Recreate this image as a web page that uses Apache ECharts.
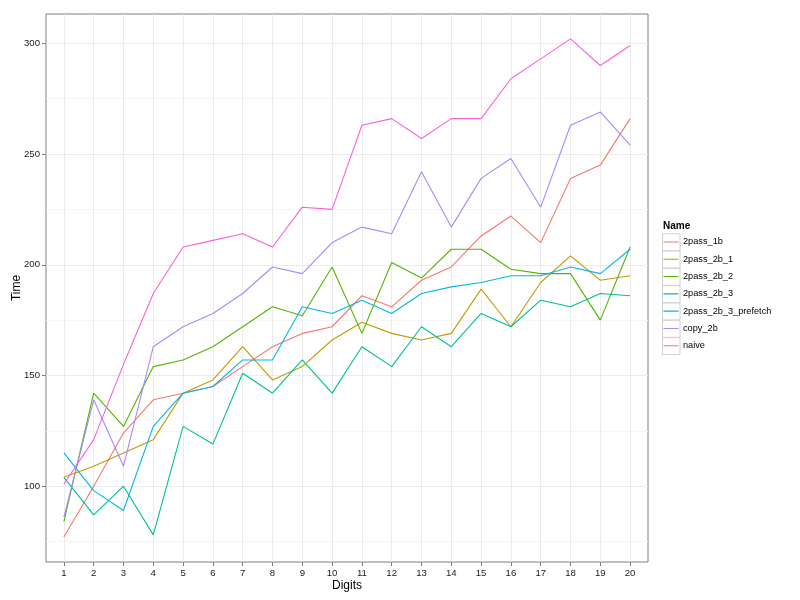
<!DOCTYPE html>
<html>
<head>
<meta charset="utf-8">
<script src="https://cdn.jsdelivr.net/npm/echarts@6/dist/echarts.min.js"></script>
<style>html,body{margin:0;padding:0;background:#fff}#c{width:800px;height:600px}</style>
</head>
<body>
<div id="c"></div>
<script>
var digits = [1,2,3,4,5,6,7,8,9,10,11,12,13,14,15,16,17,18,19,20];
var yTicks = [100,150,200,250,300];
var yMinor = [75,125,175,225,275];
var seriesNames = ['2pass_1b','2pass_2b_1','2pass_2b_2','2pass_2b_3','2pass_2b_3_prefetch','copy_2b','naive'];
var pass1b        = [77,100,124,139,142,145,154,163,169,172,186,181,193,199,213,222,210,239,245,266];
var pass2b1       = [104,109,115,121,142,148,163,148,154,166,174,169,166,169,189,172,192,204,193,195];
var pass2b2       = [84,142,127,154,157,163,172,181,177,199,169,201,194,207,207,198,196,196,175,208];
var pass2b3       = [104,87,100,78,127,119,151,142,157,142,163,154,172,163,178,172,184,181,187,186];
var pass2b3pf     = [115,98,89,127,142,145,157,157,181,178,184,178,187,190,192,195,195,199,196,207];
var copy2b        = [86,139,109,163,172,178,187,199,196,210,217,214,242,217,239,248,226,263,269,254];
var naive         = [101,121,155,187,208,211,214,208,226,225,263,266,257,266,266,284,293,302,290,299];
var seriesValues = [pass1b,pass2b1,pass2b2,pass2b3,pass2b3pf,copy2b,naive];
var colors = ['#F8766D','#C49A00','#53B400','#00C094','#00B6EB','#A58AFF','#FB61D7'];

var FONT = 'Liberation Sans, Arial, sans-serif';
var chart = echarts.init(document.getElementById('c'), null, {renderer:'canvas'});

var gridLines = [];
yMinor.forEach(function(v){ gridLines.push({yAxis:v, lineStyle:{color:'#f5f5f5', width:1, type:'solid'}}); });
yTicks.forEach(function(v){ gridLines.push({yAxis:v, lineStyle:{color:'#ebebeb', width:1, type:'solid'}}); });
digits.forEach(function(v){ gridLines.push({xAxis:v, lineStyle:{color:'#ebebeb', width:1, type:'solid'}}); });

var series = [{
  name:'__grid', type:'line', data:[], z:1, silent:true,
  markLine:{z:1, silent:true, symbol:['none','none'], label:{show:false}, animation:false, data:gridLines}
}];
seriesNames.forEach(function(n,i){
  series.push({
    name:n, type:'line', z:3, symbol:'none', showSymbol:false,
    lineStyle:{width:1.1, color:colors[i]}, itemStyle:{color:colors[i]},
    data: digits.map(function(d,j){ return [d, seriesValues[i][j]]; })
  });
});

var legendTop = 233.3, legendStep = 17.3;
var iconPath = 'path://M0,0 L0.01,0 L0.01,0.01 Z M1.5,8.1 L16.5,8.1 L16.5,9.2 L1.5,9.2 Z M17.99,17.29 L18,17.29 L18,17.3 Z';
var graphics = [];
seriesNames.forEach(function(n,i){
  graphics.push({type:'rect', z:0, shape:{x:662.5, y:legendTop+i*legendStep+0.5, width:17.5, height:legendStep-0.3},
    style:{fill:'#ffffff', stroke:'#d0d0d0', lineWidth:1}});
});
graphics.push({type:'text', left:663, top:221, style:{text:'Name', font:'bold 10px '+FONT, fill:'#000'}});

chart.setOption({
  animation:false,
  backgroundColor:'#ffffff',
  textStyle:{fontFamily:FONT},
  graphic:graphics,
  grid:{left:46, right:152, top:14, bottom:38, show:true, borderColor:'#7f7f7f', borderWidth:1, backgroundColor:'transparent', containLabel:false, outerBoundsMode:'none'},
  legend:{
    data:seriesNames.map(function(n){ return {name:n, icon:iconPath}; }),
    orient:'vertical', left:662, top:legendTop, itemWidth:18, itemHeight:17.3, itemGap:0,
    padding:0,
    textStyle:{fontSize:9.2, color:'#000', fontFamily:FONT, padding:[0,0,0,-2]},
    selectedMode:false, z:5
  },
  xAxis:{
    type:'value', min:0.4, max:20.6, name:'Digits', nameLocation:'middle', nameGap:18, nameMoveOverlap:false,
    nameTextStyle:{fontSize:12, color:'#000', fontFamily:FONT},
    axisLine:{show:false},
    axisTick:{show:true, length:4, lineStyle:{color:'#7f7f7f'}, customValues:digits},
    axisLabel:{fontSize:9.6, color:'#1a1a1a', margin:6, customValues:digits, fontFamily:FONT},
    splitLine:{show:false}
  },
  yAxis:{
    type:'value', min:65.75, max:313.25, name:'Time', nameLocation:'middle', nameGap:23, nameRotate:90, nameMoveOverlap:false,
    nameTextStyle:{fontSize:12, color:'#000', fontFamily:FONT},
    axisLine:{show:false},
    axisTick:{show:true, length:4, lineStyle:{color:'#7f7f7f'}, customValues:yTicks},
    axisLabel:{fontSize:9.6, color:'#1a1a1a', margin:6, customValues:yTicks, fontFamily:FONT},
    splitLine:{show:false}
  },
  series:series
});
</script>
</body>
</html>
